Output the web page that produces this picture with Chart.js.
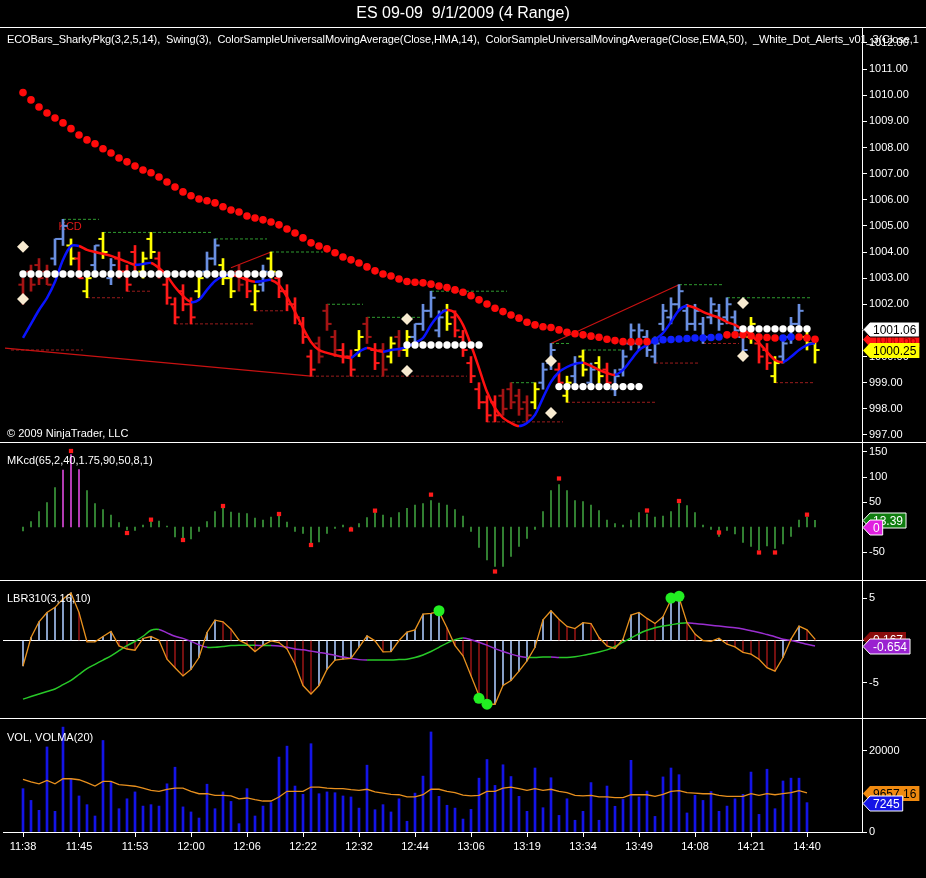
<!DOCTYPE html>
<html>
<head>
<meta charset="utf-8">
<script src="https://cdn.jsdelivr.net/npm/chart.js@4.4.1/dist/chart.umd.min.js"></script>
<style>
  html, body { margin: 0; padding: 0; background: #000; }
  #wrap { position: relative; width: 926px; height: 878px; overflow: hidden; background: #000; font-family: "Liberation Sans", Arial, sans-serif; }
  canvas { position: absolute; left: 0; }
  .lbl { position: absolute; color: #fff; font-size: 11px; line-height: 13px; white-space: pre; z-index: 5; }
  .sep { position: absolute; left: 0; width: 926px; height: 1px; background: #fff; z-index: 4; }
</style>
</head>
<body>
<div id="wrap">
  <div class="lbl" style="left:0;top:4px;width:926px;text-align:center;font-size:16px;line-height:18px;">ES 09-09  9/1/2009 (4 Range)</div>

  <canvas id="price" width="926" height="415" style="top:27px"></canvas>
  <canvas id="mkcd" width="926" height="138" style="top:442px"></canvas>
  <canvas id="lbr" width="926" height="138" style="top:580px"></canvas>
  <canvas id="vol" width="926" height="160" style="top:718px"></canvas>

  <div class="sep" style="top:27px"></div>
  <div class="sep" style="top:442px"></div>
  <div class="sep" style="top:580px"></div>
  <div class="sep" style="top:718px"></div>

  <div class="lbl" style="left:7px;top:33px;width:919px;overflow:hidden;letter-spacing:-0.1px;">ECOBars_SharkyPkg(3,2,5,14),  Swing(3),  ColorSampleUniversalMovingAverage(Close,HMA,14),  ColorSampleUniversalMovingAverage(Close,EMA,50),  _White_Dot_Alerts_v01_3(Close,1</div>
  <div class="lbl" style="left:7px;top:427px;">© 2009 NinjaTrader, LLC</div>
  <div class="lbl" style="left:7px;top:454px;">MKcd(65,2,40,1.75,90,50,8,1)</div>
  <div class="lbl" style="left:7px;top:592px;">LBR310(3,16,10)</div>
  <div class="lbl" style="left:7px;top:731px;">VOL, VOLMA(20)</div>
</div>

<script>
// ---- time axis ----
const tickIdx = [0, 7, 14, 21, 28, 35, 42, 49, 56, 63, 70, 77, 84, 91, 98];
const tickLabels = ['11:38', '11:45', '11:53', '12:00', '12:06', '12:22', '12:32', '12:44', '13:06', '13:19', '13:34', '13:49', '14:08', '14:21', '14:40'];

// ---- range bars (4 tick) ----
const opens = [
  1002.75, 1003.25, 1003.50, 1003.25, 1003.75, 1004.50, 1004.25, 1003.75, 1002.50, 1003.50,
  1004.50, 1003.00, 1003.75, 1003.25, 1004.00, 1003.25, 1004.50, 1003.75, 1002.75, 1002.00,
  1002.50, 1002.00, 1002.50, 1003.25, 1003.75, 1003.50, 1003.00, 1003.25, 1003.00, 1002.00,
  1002.75, 1003.75, 1003.00, 1002.50, 1002.00, 1001.25, 1000.00, 1000.50, 1001.75, 1000.75,
  1000.25, 1000.00, 1000.25, 1001.25, 1000.25, 1000.25, 1000.00, 1000.75, 1000.25, 1000.75,
  1001.25, 1001.75, 1001.00, 1001.75, 1001.50, 1000.75, 999.75, 998.75, 998.25, 998.25,
  998.50, 998.75, 998.50, 998.25, 998.25, 999.00, 999.75, 999.50, 998.50, 999.25,
  1000.00, 999.00, 999.75, 999.50, 998.75, 999.50, 1000.50, 1000.50, 1000.75, 1000.00,
  1001.25, 1001.50, 1002.00, 1001.75, 1001.25, 1001.25, 1001.50, 1001.75, 1001.50, 1001.50,
  1000.75, 1000.75, 1000.50, 1000.25, 999.25, 1000.00, 1000.75, 1001.25, 1000.75, 1000.50
];
const highs = [
  1003.00, 1003.50, 1003.75, 1003.50, 1004.50, 1005.25, 1004.50, 1004.00, 1003.25, 1004.25,
  1004.75, 1003.75, 1004.00, 1003.50, 1004.25, 1004.00, 1004.75, 1004.00, 1003.00, 1002.25,
  1002.75, 1002.25, 1003.25, 1004.00, 1004.50, 1003.75, 1003.25, 1003.50, 1003.25, 1002.75,
  1003.50, 1004.00, 1003.25, 1002.75, 1002.25, 1001.50, 1000.25, 1000.75, 1002.00, 1001.00,
  1000.50, 1000.25, 1001.00, 1001.50, 1000.50, 1000.50, 1000.75, 1001.00, 1001.00, 1001.25,
  1002.00, 1002.50, 1001.75, 1002.00, 1001.75, 1001.00, 1000.00, 999.00, 998.50, 998.50,
  998.75, 999.00, 998.75, 998.50, 999.00, 999.75, 1000.50, 999.75, 999.25, 1000.00,
  1000.25, 999.75, 1000.00, 999.75, 999.50, 1000.25, 1001.25, 1001.25, 1001.00, 1000.75,
  1002.00, 1002.25, 1002.75, 1002.00, 1002.00, 1001.50, 1002.25, 1002.00, 1002.25, 1001.75,
  1001.00, 1001.50, 1000.75, 1000.50, 1000.00, 1000.75, 1001.50, 1002.00, 1001.00, 1000.75
];
const lows = [
  1002.00, 1002.50, 1002.75, 1002.75, 1003.50, 1004.25, 1003.50, 1003.00, 1002.25, 1003.25,
  1003.75, 1002.75, 1003.00, 1002.50, 1003.25, 1003.00, 1003.75, 1003.00, 1002.00, 1001.25,
  1001.75, 1001.25, 1002.25, 1003.00, 1003.50, 1002.75, 1002.25, 1002.50, 1002.25, 1001.75,
  1002.50, 1003.00, 1002.25, 1001.75, 1001.25, 1000.50, 999.25, 999.75, 1001.00, 1000.00,
  999.75, 999.25, 1000.00, 1000.50, 999.50, 999.25, 999.75, 1000.00, 1000.00, 1000.50,
  1001.00, 1001.50, 1000.75, 1001.00, 1000.75, 1000.00, 999.00, 998.00, 997.50, 997.50,
  997.75, 998.00, 997.75, 997.50, 998.00, 998.75, 999.50, 998.75, 998.25, 999.00,
  999.25, 998.75, 999.00, 998.75, 998.50, 999.25, 1000.25, 1000.25, 1000.00, 999.75,
  1001.00, 1001.25, 1001.75, 1001.00, 1001.00, 1000.50, 1001.25, 1001.00, 1001.25, 1000.75,
  1000.00, 1000.50, 999.75, 999.50, 999.00, 999.75, 1000.50, 1001.00, 1000.25, 999.75
];
const closes = [
  1002.25, 1002.75, 1003.00, 1002.75, 1004.50, 1005.00, 1003.75, 1003.00, 1003.00, 1004.25,
  1004.00, 1003.50, 1003.25, 1002.75, 1003.50, 1003.75, 1004.00, 1003.25, 1002.25, 1001.50,
  1002.00, 1001.50, 1003.00, 1003.75, 1004.25, 1003.00, 1002.50, 1002.75, 1002.50, 1002.50,
  1003.25, 1003.25, 1002.50, 1002.00, 1001.50, 1000.75, 999.50, 1000.00, 1001.25, 1000.25,
  1000.00, 999.50, 1000.75, 1000.75, 999.75, 999.50, 1000.50, 1000.25, 1000.75, 1001.25,
  1001.75, 1002.25, 1001.50, 1001.25, 1001.00, 1000.25, 999.25, 998.25, 997.75, 997.75,
  998.00, 998.25, 998.00, 997.75, 998.75, 999.50, 1000.25, 999.00, 999.00, 999.75,
  999.50, 999.50, 999.25, 999.00, 999.25, 1000.00, 1001.00, 1001.00, 1000.25, 1000.50,
  1001.75, 1002.00, 1002.50, 1001.25, 1001.75, 1000.75, 1002.00, 1001.25, 1002.00, 1001.00,
  1000.25, 1001.25, 1000.00, 999.75, 999.75, 1000.50, 1001.25, 1001.75, 1000.50, 1000.25
];
// bar tone: b = up blue, y = yellow, r = red, d = dark red
const barTone = ('ddddbbyryb' + 'ybrrryyrrr' + 'rrybbyydry' + 'byrrrrrddd' + 'rrydrdydyb' +
                 'bbbyrrrrrr' + 'ddddybbryb' + 'ybyrbbbbbb' + 'bbbbbbbbbb' + 'byrrybbbyy').split('');

// ---- moving averages ----
const hma14 = [
  1000.71, 1001.25, 1001.78, 1002.24, 1002.86, 1003.70, 1004.23, 1004.23, 1004.08, 1004.00,
  1003.93, 1003.85, 1003.74, 1003.62, 1003.51, 1003.54, 1003.58, 1003.39, 1003.08, 1002.66,
  1002.32, 1002.09, 1002.17, 1002.55, 1002.89, 1003.08, 1003.12, 1003.05, 1002.93, 1002.86,
  1002.89, 1002.93, 1002.74, 1002.28, 1001.71, 1001.09, 1000.56, 1000.25, 1000.14, 1000.06,
  999.99, 999.95, 1000.18, 1000.33, 1000.25, 1000.18, 1000.25, 1000.29, 1000.37, 1000.52,
  1000.71, 1001.21, 1001.59, 1001.78, 1001.67, 1001.21, 1000.44, 999.56, 998.65, 998.03,
  997.65, 997.46, 997.34, 997.46, 997.77, 998.42, 999.03, 999.41, 999.60, 999.72,
  999.76, 999.64, 999.49, 999.37, 999.30, 999.49, 999.87, 1000.25, 1000.44, 1000.64,
  1000.90, 1001.32, 1001.78, 1001.94, 1001.86, 1001.71, 1001.59, 1001.48, 1001.32, 1001.21,
  1001.02, 1000.83, 1000.52, 1000.18, 999.87, 999.79, 999.99, 1000.25, 1000.44, 1000.52
];
const ema50 = [
  1010.10, 1009.82, 1009.55, 1009.32, 1009.13, 1008.94, 1008.72, 1008.48, 1008.29, 1008.14,
  1007.95, 1007.79, 1007.60, 1007.45, 1007.29, 1007.14, 1007.03, 1006.87, 1006.68, 1006.49,
  1006.30, 1006.15, 1006.03, 1005.96, 1005.88, 1005.73, 1005.61, 1005.53, 1005.38, 1005.30,
  1005.23, 1005.15, 1005.04, 1004.88, 1004.73, 1004.54, 1004.35, 1004.23, 1004.12, 1003.97,
  1003.81, 1003.70, 1003.58, 1003.43, 1003.28, 1003.16, 1003.08, 1002.97, 1002.87, 1002.84,
  1002.82, 1002.77, 1002.70, 1002.64, 1002.55, 1002.46, 1002.33, 1002.17, 1002.01, 1001.85,
  1001.72, 1001.59, 1001.47, 1001.31, 1001.21, 1001.14, 1001.11, 1001.02, 1000.93, 1000.87,
  1000.83, 1000.78, 1000.74, 1000.66, 1000.61, 1000.57, 1000.56, 1000.57, 1000.57, 1000.60,
  1000.64, 1000.65, 1000.67, 1000.69, 1000.71, 1000.71, 1000.73, 1000.75, 1000.83, 1000.83,
  1000.83, 1000.79, 1000.75, 1000.73, 1000.71, 1000.71, 1000.75, 1000.75, 1000.71, 1000.66
];
const emaBlueIdx = [79, 80, 81, 82, 83, 84, 85, 86, 87, 95, 96];

// ---- white dot alerts (level runs) ----
const whiteFrom = [0, 48, 67, 90];
const whiteTo = [32, 57, 77, 98];
const whiteLevel = [1003.16, 1000.44, 998.85, 1001.06];

// ---- swing lines ----
const swingHiFrom = [5, 10, 24, 31, 38, 43, 51, 61, 66, 70, 82, 88];
const swingHiTo = [9.5, 23.5, 30.5, 37.5, 42.5, 50, 60.5, 64, 68.5, 75, 87.5, 98.5];
const swingHiVal = [1005.25, 1004.75, 1004.5, 1004.0, 1002.0, 1001.5, 1002.5, 999.0, 1000.5, 1000.25, 1002.75, 1002.25];
const swingLoFrom = [-1.5, 8, 13, 19, 29, 36, 58, 68, 79, 85, 94];
const swingLoTo = [7.5, 12.5, 16, 29, 32.5, 55.5, 67.5, 79, 84.5, 89.5, 99];
const swingLoVal = [1000.25, 1002.25, 1002.5, 1001.25, 1001.75, 999.25, 997.5, 998.25, 999.75, 1000.5, 999.0];

// ---- trend lines ----
const trendFromX = [-2.25, 26, 66];
const trendFromY = [1000.32, 1003.4, 1000.5];
const trendToX = [36, 31, 82];
const trendToY = [999.25, 1004.0, 1002.75];

// ---- diamonds ----
const diamondIdx = [0, 0, 48, 48, 66, 66, 90, 90];
const diamondVal = [1004.2, 1002.2, 1001.44, 999.45, 999.83, 997.84, 1002.05, 1000.02];

// ---- MKcd ----
const mkcd = [
  -8, 10.6, 30.6, 48.7, 78.7, 114, 145, 115, 72.6, 47,
  35, 24, 8.7, -6, -7, 4, 10.6, 12, 2, -20,
  -25, -24, -9, 11, 30.6, 40, 30, 28, 27, 18,
  14, 20, 25, 10, -9, -13, -33, -30, -13, -3,
  4, -6, 7, 19, 28.7, 24, 19, 29, 37.4, 44,
  47, 53, 48, 44, 35, 22, -9, -41, -66, -79,
  -79, -59, -39, -23, -5, 31, 73, 85, 73, 53,
  51, 44, 33, 14, 7, 4, 14, 29, 26, 20,
  22, 31, 47, 43, 29, 4, -5, -19, -7, -14,
  -31, -39, -46, -38, -43, -34, -19, 14, 20, 13.39
];
const mkcdDotIdx = [6, 13, 16, 20, 25, 32, 36, 41, 44, 51, 59, 67, 78, 82, 87, 92, 94, 98];
const mkcdDotVal = [152, -12, 14.7, -26, 42, 26, -36, -5, 32.7, 64.7, -89, 97, 33, 52, -11, -51, -51, 24.7];

// ---- LBR310 ----
const lbrFast = [
  -3.0, 0.35, 2.2, 3.3, 3.9, 4.9, 5.6, 3.3, -0.15, -0.15,
  0.47, 1.06, -0.63, -1.0, -1.14, 0.24, 0.47, 0.04, -2.2, -3.2,
  -4.16, -3.4, -2.0, 0.94, 2.4, 2.2, 1.33, 0.04, -0.43, -1.3,
  -0.55, -0.04, -0.24, -1.0, -2.8, -5.3, -6.3, -5.3, -3.4, -2.3,
  -2.2, -2.1, -0.8, 0.55, -0.04, -1.33, -1.3, 0, 1.0, 1.25,
  3.1, 3.2, 3.4, 1.5, -0.6, -1.8, -4.16, -6.5, -7.5, -7.5,
  -5.3, -4.7, -3.6, -2.4, -0.8, 2.43, 3.5, 2.5, 1.65, 1.4,
  2.1, 2.0, 0.35, -0.63, -0.94, 0.16, 3.0, 3.3, 2.6, 2.0,
  2.8, 4.8, 5.06, 2.1, 0.75, 0, -0.1, 0.27, -0.43, -0.75,
  -1.4, -1.6, -2.2, -3.2, -3.6, -2.0, 0.16, 1.7, 1.25, 0.167
];
const lbrSlow = [
  -6.9, -6.6, -6.3, -6.0, -5.7, -5.2, -4.7, -4.0, -3.3, -2.8,
  -2.3, -1.8, -1.2, -0.6, -0.1, 0.5, 1.2, 1.3, 0.9, 0.5,
  0.25, -0.1, -0.5, -0.8, -0.8, -0.7, -0.6, -0.55, -0.55, -0.55,
  -0.6, -0.6, -0.65, -0.8, -1.0, -1.1, -1.25, -1.4, -1.55, -1.75,
  -1.95, -2.1, -2.25, -2.3, -2.3, -2.3, -2.3, -2.25, -2.2, -2.0,
  -1.7, -1.3, -0.8, -0.3, 0.1, 0.3, 0.1, -0.2, -0.55, -0.95,
  -1.3, -1.6, -1.85, -2.0, -2.0, -1.95, -1.95, -2.0, -2.0, -1.9,
  -1.75, -1.55, -1.35, -1.1, -0.7, -0.2, 0.3, 0.8, 1.2, 1.5,
  1.7, 1.85, 2.0, 2.1, 2.0, 1.9, 1.8, 1.7, 1.6, 1.5,
  1.35, 1.15, 0.95, 0.7, 0.45, 0.15, 0, -0.2, -0.45, -0.654
];
const lbrDotIdx = [52, 57, 58, 81, 82];
const lbrDotVal = [3.5, -6.8, -7.5, 5.0, 5.2];

// ---- volume ----
const volume = [
  10700, 7800, 5350, 21000, 5100, 25900, 13200, 8900, 6750, 3950,
  22600, 12300, 5750, 8200, 9900, 6400, 6750, 6400, 11900, 16000,
  6200, 4950, 3450, 11800, 5750, 9900, 7550, 2050, 10700, 3950,
  6400, 7250, 18500, 21200, 11350, 9300, 21800, 9450, 9900, 9700,
  8900, 8650, 5900, 16500, 5500, 6750, 4950, 8200, 2650, 9600,
  13800, 24700, 8800, 6600, 5900, 3200, 5600, 13300, 17900, 11500,
  16600, 13700, 8800, 5100, 15800, 6000, 13400, 4100, 8200, 2900,
  5100, 12200, 2900, 11350, 6350, 8050, 17700, 8650, 10100, 3850,
  13600, 15800, 14150, 4700, 9050, 7800, 10000, 5100, 6400, 8200,
  9300, 14800, 4350, 15500, 5750, 12600, 13300, 13300, 7245
];
const volma20 = [
  13000, 12350, 11900, 12750, 11900, 13150, 13150, 12900, 12200, 11350,
  12500, 12500, 11700, 11500, 11300, 10850, 10300, 10050, 10550, 10850,
  10850, 10050, 9450, 9450, 9050, 9050, 8900, 8200, 8400, 8000,
  7650, 7650, 8650, 10050, 10050, 10050, 11100, 11100, 10850, 10700,
  10700, 10450, 10300, 10550, 9900, 9600, 9300, 9200, 8650, 8650,
  9200, 10550, 10550, 10050, 9700, 9100, 8900, 9050, 10050, 10050,
  10850, 11100, 10700, 10300, 10700, 10300, 10550, 10050, 9700, 9050,
  8900, 9050, 8650, 8650, 8500, 8500, 9200, 9200, 9200, 8800,
  9300, 10050, 10200, 9700, 9600, 9450, 9450, 9050, 8800, 8800,
  8800, 9450, 9050, 9450, 9200, 9450, 9700, 10200, 9657.16
];

// ---- axis ticks ----
const priceTicks = [997, 998, 999, 1000, 1001, 1002, 1003, 1004, 1005, 1006, 1007, 1008, 1009, 1010, 1011, 1012];
const mkcdTicks = [150, 100, 50, -50];
const lbrTicks = [5, 0, -5];
const volTicks = [20000, 0];

const FONT = 'Liberation Sans';
const tonePalette = { b: '#6a8fe0', y: '#ffff00', r: '#ff1a1a', d: '#a51414' };

// last-value flags on the price scale
const flagPlugin = {
  id: 'flags',
  afterDraw(chart, args, opts) {
    const ys = chart.scales.y, ctx = chart.ctx, x0 = chart.chartArea.right + 1;
    ctx.save();
    ctx.font = '12px "' + FONT + '"';
    ctx.textBaseline = 'middle';
    (opts.items || []).forEach(f => {
      const y = Math.round(ys.getPixelForValue(f.value)) + 0.5;
      const w = ctx.measureText(f.text).width + 6, h = 15, tip = 7;
      ctx.beginPath();
      ctx.moveTo(x0, y);
      ctx.lineTo(x0 + tip, y - h / 2);
      ctx.lineTo(x0 + tip + w, y - h / 2);
      ctx.lineTo(x0 + tip + w, y + h / 2);
      ctx.lineTo(x0 + tip, y + h / 2);
      ctx.closePath();
      ctx.fillStyle = f.bg;
      ctx.fill();
      if (f.border) { ctx.strokeStyle = f.border; ctx.lineWidth = 1; ctx.stroke(); }
      ctx.fillStyle = f.fg;
      ctx.fillText(f.text, x0 + tip + 3, y + 1);
    });
    ctx.restore();
  }
};

// small text notes placed in data units
const notePlugin = {
  id: 'notes',
  beforeDatasetsDraw(chart, args, opts) {
    const ctx = chart.ctx;
    ctx.save();
    ctx.font = '11px "' + FONT + '"';
    ctx.textAlign = 'center';
    ctx.textBaseline = 'middle';
    (opts.items || []).forEach(n => {
      ctx.fillStyle = n.color;
      ctx.fillText(n.text, chart.scales.x.getPixelForValue(n.x), chart.scales.y.getPixelForValue(n.y));
    });
    ctx.restore();
  }
};

const xHidden = { type: 'linear', min: -2.5, max: 104.875, offset: false, display: false, grid: { offset: false } };

function yScale(min, max, ticks, fmt, zeroLine) {
  return {
    position: 'right', min: min, max: max, offset: false,
    afterBuildTicks: s => { s.ticks = ticks.map(v => ({ value: v })); },
    afterFit: s => { s.width = 64; s.paddingTop = 0; s.paddingBottom = 0; },
    grid: {
      drawOnChartArea: !!zeroLine,
      color: ctx => (zeroLine && ctx.tick && ctx.tick.value === 0) ? zeroLine : 'rgba(0,0,0,0)',
      tickColor: '#fff', tickLength: 5
    },
    border: { display: true, color: '#fff', width: 1 },
    ticks: { color: '#fff', font: { family: FONT, size: 11 }, padding: 2, callback: fmt }
  };
}

function baseOptions(scales, plugins) {
  return {
    responsive: false, animation: false, devicePixelRatio: 1, events: [],
    layout: { autoPadding: false, padding: { left: 3, right: 0, top: 0, bottom: 0 } },
    scales: scales,
    plugins: Object.assign({ legend: { display: false }, tooltip: { enabled: false } }, plugins)
  };
}

function runs(from, to, val) {
  const pts = [];
  from.forEach((f, k) => {
    pts.push({ x: f, y: val[k] }, { x: to[k], y: val[k] }, { x: to[k] + 0.01, y: null });
  });
  return pts;
}

const idx = opens.map((_, i) => i);
const toneColors = barTone.map(t => tonePalette[t]);

// ---------- price panel ----------
const whitePts = [];
whiteFrom.forEach((f, k) => { for (let i = f; i <= whiteTo[k]; i++) whitePts.push({ x: i, y: whiteLevel[k] }); });
const trendPts = [];
trendFromX.forEach((f, k) => { trendPts.push({ x: f, y: trendFromY[k] }, { x: trendToX[k], y: trendToY[k] }, { x: trendToX[k] + 0.01, y: null }); });

new Chart(document.getElementById('price'), {
  type: 'bar',
  data: {
    datasets: [
      { type: 'scatter', data: diamondIdx.map((d, k) => ({ x: d, y: diamondVal[k] })), pointStyle: 'rectRot',
        pointRadius: 6, pointBackgroundColor: '#f7ead0', pointBorderWidth: 0, order: 1 },
      { type: 'scatter', data: whitePts, pointRadius: 3.7, pointBackgroundColor: '#ffffff', pointBorderWidth: 0, order: 2 },
      { type: 'scatter', data: idx.map(i => ({ x: i, y: ema50[i] })), pointRadius: 3.8,
        pointBackgroundColor: idx.map(i => emaBlueIdx.includes(i) ? '#1020ff' : '#ff0a0a'), pointBorderWidth: 0, order: 3 },
      { type: 'line', data: idx.map(i => ({ x: i, y: hma14[i] })), borderWidth: 2.5, pointRadius: 0, tension: 0.3,
        segment: { borderColor: c => c.p1.parsed.y >= c.p0.parsed.y ? '#0a14ff' : '#ff1010' }, order: 4 },
      { type: 'bar', data: idx.map(i => ({ x: i, y: [lows[i], highs[i]] })), backgroundColor: toneColors,
        barThickness: 2, grouped: false, order: 5 },
      { type: 'scatter', data: idx.map(i => ({ x: i - 0.3, y: opens[i] })), pointStyle: 'line', pointRadius: 2.2,
        pointBorderWidth: 2, pointBorderColor: toneColors, order: 5 },
      { type: 'scatter', data: idx.map(i => ({ x: i + 0.3, y: closes[i] })), pointStyle: 'line', pointRadius: 2.2,
        pointBorderWidth: 2, pointBorderColor: toneColors, order: 5 },
      { type: 'line', data: trendPts, borderColor: '#c81212', borderWidth: 1.2, pointRadius: 0, order: 8 },
      { type: 'line', data: runs(swingHiFrom, swingHiTo, swingHiVal), borderColor: '#2f9a2f', borderWidth: 1,
        borderDash: [3, 2], pointRadius: 0, order: 9 },
      { type: 'line', data: runs(swingLoFrom, swingLoTo, swingLoVal), borderColor: '#9a1c1c', borderWidth: 1,
        borderDash: [3, 2], pointRadius: 0, order: 9 }
    ]
  },
  options: baseOptions(
    { x: xHidden, y: yScale(996.73, 1012.61, priceTicks, v => v.toFixed(2)) },
    {
      flags: { items: [
        { value: 1000.66, text: '1000.66', bg: '#ff1414', fg: '#b00000' },
        { value: 1001.06, text: '1001.06', bg: '#ffffff', fg: '#000000', border: '#000' },
        { value: 1000.25, text: '1000.25', bg: '#ffff00', fg: '#000000' }
      ] },
      notes: { items: [{ x: 5.9, y: 1004.96, text: 'KCD', color: '#e01818' }] }
    }
  ),
  plugins: [flagPlugin, notePlugin]
});

// ---------- MKcd panel ----------
new Chart(document.getElementById('mkcd'), {
  type: 'bar',
  data: {
    datasets: [
      { type: 'scatter', data: mkcdDotIdx.map((d, k) => ({ x: d, y: mkcdDotVal[k] })), pointStyle: 'rect',
        pointRadius: 3, pointBackgroundColor: '#ff1a1a', pointBorderWidth: 0, order: 1 },
      { type: 'bar', data: idx.map(i => ({ x: i, y: mkcd[i] })), barThickness: 1, grouped: false,
        backgroundColor: mkcd.map(v => v > 100 ? '#d848d8' : '#3c9a3c'), order: 2 }
    ]
  },
  options: baseOptions(
    { x: xHidden, y: yScale(-106, 170, mkcdTicks, v => String(v)) },
    { flags: { items: [
      { value: 13.39, text: '13.39', bg: '#0f7d0f', fg: '#ffffff', border: '#ffffff' },
      { value: 0, text: '0', bg: '#e020e0', fg: '#ffffff', border: '#ffffff' }
    ] } }
  ),
  plugins: [flagPlugin]
});

// ---------- LBR310 panel ----------
new Chart(document.getElementById('lbr'), {
  type: 'bar',
  data: {
    datasets: [
      { type: 'scatter', data: lbrDotIdx.map((d, k) => ({ x: d, y: lbrDotVal[k] })), pointRadius: 5.5,
        pointBackgroundColor: '#22ee22', pointBorderWidth: 0, order: 1 },
      { type: 'line', data: idx.map(i => ({ x: i, y: lbrFast[i] })), borderColor: '#e8921e', borderWidth: 1.3,
        pointRadius: 0, order: 2 },
      { type: 'line', data: idx.map(i => ({ x: i, y: lbrSlow[i] })), borderWidth: 1.5, pointRadius: 0, tension: 0.3,
        segment: { borderColor: c => c.p1.parsed.y >= c.p0.parsed.y ? '#28c828' : '#9a2ed0' }, order: 3 },
      { type: 'bar', data: idx.map(i => ({ x: i, y: lbrFast[i] })), barThickness: 1, grouped: false,
        backgroundColor: idx.map(i => (i === 0 || lbrFast[i] >= lbrFast[i - 1]) ? '#a4c0f0' : '#8c1414'), order: 4 }
    ]
  },
  options: baseOptions(
    { x: xHidden, y: yScale(-9.12, 7.12, lbrTicks, v => v === 0 ? '' : String(v), '#ffffff') },
    { flags: { items: [
      { value: 0.167, text: '0.167', bg: '#8a0c0c', fg: '#ffffff' },
      { value: -0.654, text: '-0.654', bg: '#9a22d0', fg: '#ffffff', border: '#ffffff' }
    ] } }
  ),
  plugins: [flagPlugin]
});

// ---------- VOL panel ----------
new Chart(document.getElementById('vol'), {
  type: 'bar',
  data: {
    datasets: [
      { type: 'line', data: volma20.map((v, i) => ({ x: i, y: v })), borderColor: '#e8901e', borderWidth: 1.3,
        pointRadius: 0, order: 1 },
      { type: 'bar', data: volume.map((v, i) => ({ x: i, y: v })), barThickness: 2, grouped: false,
        backgroundColor: '#1414e6', order: 2 }
    ]
  },
  options: baseOptions(
    {
      x: {
        type: 'linear', min: -2.5, max: 104.875, offset: false, position: 'bottom',
        afterBuildTicks: s => { s.ticks = tickIdx.map(v => ({ value: v })); },
        afterFit: s => { s.height = 46; s.paddingLeft = 0; s.paddingRight = 0; },
        grid: { offset: false, drawOnChartArea: false, tickColor: '#fff', tickLength: 5, color: '#fff' },
        border: { display: true, color: '#fff', width: 1 },
        ticks: { color: '#fff', font: { family: FONT, size: 11 }, padding: 3, maxRotation: 0, autoSkip: false,
                 callback: (v, k) => tickLabels[k] }
      },
      y: yScale(0, 28148, volTicks, v => String(v))
    },
    { flags: { items: [
      { value: 9657.16, text: '9657.16', bg: '#f08a10', fg: '#000000' },
      { value: 7245, text: '7245', bg: '#1414e6', fg: '#ffffff', border: '#ffffff' }
    ] } }
  ),
  plugins: [flagPlugin]
});
</script>
</body>
</html>
